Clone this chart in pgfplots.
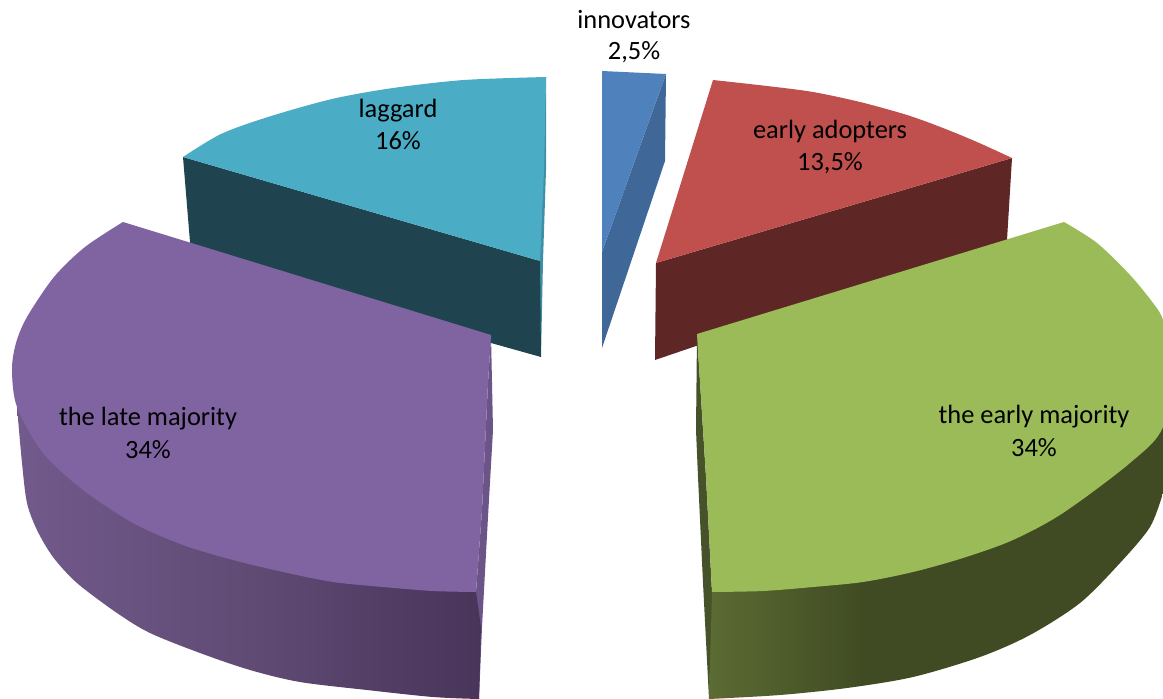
\documentclass[border=0pt]{standalone}
\usepackage{pgfplots}
\pgfplotsset{compat=1.18}
\usepackage{fontspec}
\setmainfont{Carlito}
% slice colours
\definecolor{blueTop}{HTML}{4F81BD}
\definecolor{blueSide}{HTML}{3F6797}
\definecolor{redTop}{HTML}{C0504D}
\definecolor{redSide}{HTML}{5E2726}
\definecolor{greenTop}{HTML}{9BBB59}
\definecolor{greenStrip}{HTML}{46532A}
\definecolor{greenA}{HTML}{5B6B33}
\definecolor{greenB}{HTML}{404B23}
\definecolor{purpleTop}{HTML}{8064A2}
\definecolor{purpleStrip}{HTML}{6B5488}
\definecolor{purpleA}{HTML}{725A8C}
\definecolor{purpleB}{HTML}{5F4B74}
\definecolor{purpleC}{HTML}{49355A}
\definecolor{tealTop}{HTML}{4BACC6}
\definecolor{tealStrip}{HTML}{3F8FA6}
\definecolor{tealSide}{HTML}{1F4450}
% rim gradients of the two large slices
\pgfdeclarehorizontalshading{greenRim}{100bp}{color(0bp)=(greenA); color(25bp)=(greenA); color(42bp)=(greenB); color(100bp)=(greenB)}
\pgfdeclarehorizontalshading{purpleRim}{100bp}{color(0bp)=(purpleA); color(25bp)=(purpleA); color(50bp)=(purpleB); color(75bp)=(purpleC); color(100bp)=(purpleC)}
\tikzset{lbl/.style={font=\fontsize{19.8pt}{22pt}\selectfont}}
\begin{document}
\begin{tikzpicture}
\begin{axis}[
  scale only axis, width=872.25pt, height=524.25pt,
  xmin=0, xmax=1163, ymin=0, ymax=699, y dir=reverse,
  hide axis, clip=true,
  every axis plot/.append style={draw=none, line width=0pt, mark=none},
]
% innovators
\addplot[fill=blueSide] coordinates {(666,74) (665,161) (602,348) (602,252)} --cycle;
\addplot[fill=blueTop] coordinates {(602,71) (666,74) (602,252)} --cycle;
% early adopters: curved rim smoothed, straight edges appended to the path
\addplot[fill=redSide] coordinates {(656,263) (1012,158) (1007,240) (655,360)} --cycle;
\addplot[fill=redTop, smooth] coordinates {(713,80) (767,86) (813,92) (860,102) (907,115) (943,128) (977,142) (1012,158)} -- (axis cs:656,263) -- cycle;
% laggard
\addplot[fill=tealStrip] coordinates {(546,77) (546,170) (543,261) (541,357) (538,261)} --cycle;
\addplot[fill=tealSide] coordinates {(183,157) (190,242) (191,250) (491,343) (541,357) (540,261)} --cycle;
\addplot[fill=tealTop, smooth] coordinates {(546,77) (464,80) (393,88) (332,99) (268,117) (221,134) (183,157)} -- (axis cs:540,261) -- (axis cs:544,170) -- cycle;
% the early majority
\addplot[fill=greenStrip] coordinates {(697,334) (696,430) (698,477) (703,583) (709,699) (712,699) (712,592) (706,477) (698,350)} --cycle;
\addplot[shade, shading=greenRim, smooth] coordinates {(709,699) (780,695) (847,688) (913,677) (980,657) (1030,635) (1080,603) (1120,563) (1150,527) (1163,493)} -- (axis cs:1163,427) -- (axis cs:712,592) -- cycle;
\addplot[fill=greenTop, smooth] coordinates {(1064,222) (1097,243) (1130,275) (1153,303) (1163,320) (1172,360) (1163,427) (1130,463) (1063,513) (1013,540) (963,558) (913,572) (863,582) (813,587) (763,591) (712,592)} -- (axis cs:706,477) -- (axis cs:698,350) -- (axis cs:697,334) -- cycle;
% the late majority
\addplot[fill=purpleStrip] coordinates {(491,335) (493,430) (488,517) (482,627) (479,699) (476,699) (476,592) (482,510) (488,383)} --cycle;
\addplot[shade, shading=purpleRim, smooth] coordinates {(17,407) (22,463) (27,503) (37,530) (53,557) (77,583) (117,613) (150,633) (200,653) (250,670) (300,682) (367,690) (433,697) (479,699)} -- (axis cs:481,627) -- (axis cs:476,592) -- cycle;
\addplot[fill=purpleTop, smooth] coordinates {(123,222) (85,247) (54,277) (27,317) (16,343) (12,370) (17,407) (43,453) (83,490) (133,523) (183,545) (233,560) (283,572) (333,582) (383,587) (433,591) (476,592)} -- (axis cs:482,510) -- (axis cs:488,383) -- (axis cs:491,335) -- cycle;
% slice labels
\path (axis cs:634,20) node[lbl]{innovators};
\path (axis cs:634,52) node[lbl]{2,5\%};
\path (axis cs:830,131) node[lbl]{early adopters};
\path (axis cs:830,163) node[lbl]{13,5\%};
\path (axis cs:398,111) node[lbl]{laggard};
\path (axis cs:398,141) node[lbl]{16\%};
\path (axis cs:148,419) node[lbl]{the late majority};
\path (axis cs:148,450) node[lbl]{34\%};
\path (axis cs:1034,417) node[lbl]{the early majority};
\path (axis cs:1034,448) node[lbl]{34\%};
\end{axis}
\pgfresetboundingbox
\useasboundingbox (current axis.south west) rectangle (current axis.north east);
\end{tikzpicture}
\end{document}
